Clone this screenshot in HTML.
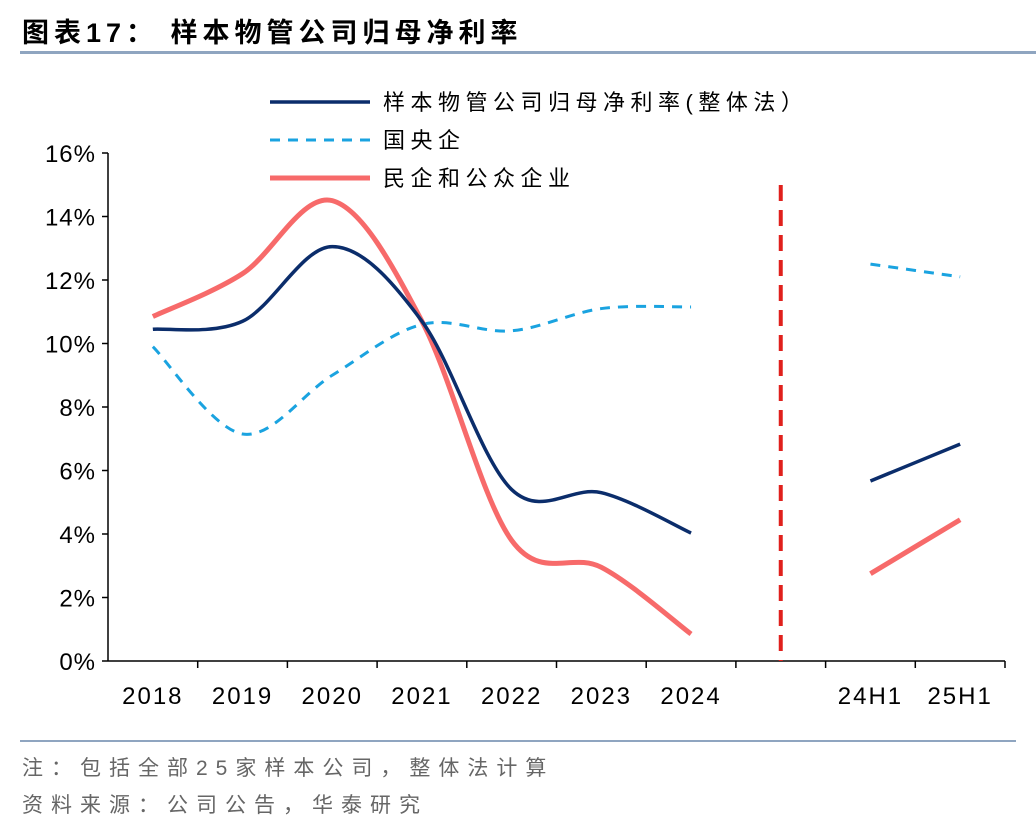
<!DOCTYPE html>
<html><head><meta charset="utf-8"><style>
body{margin:0;background:#fff;width:1036px;height:828px;overflow:hidden;font-family:"Liberation Sans","Noto Sans CJK SC",sans-serif}
</style></head><body>
<svg width="1036" height="828" xmlns="http://www.w3.org/2000/svg" id="chart">
<text x="22" y="42" font-size="27" font-weight="bold" letter-spacing="5" font-family="Liberation Sans,Noto Sans CJK SC,sans-serif">图表17：  样本物管公司归母净利率</text>
<rect x="20" y="51" width="1016" height="3" fill="#8fa5c0"/>
<rect x="20" y="740" width="996" height="2" fill="#8fa5c0"/>
<text x="22" y="775" font-size="21" fill="#666" letter-spacing="8">注：包括全部25家样本公司，整体法计算</text>
<text x="22" y="812" font-size="21" fill="#666" letter-spacing="8">资料来源：公司公告，华泰研究</text>
<g id="axes"></g><g id="series"></g>
<g>
<line x1="270" y1="102" x2="370" y2="102" stroke="#0b2d6b" stroke-width="3.5"/>
<text x="383" y="110" font-size="22" letter-spacing="5.5">样本物管公司归母净利率(整体法）</text>
<line x1="270" y1="140" x2="370" y2="140" stroke="#1aa3e0" stroke-width="3" stroke-dasharray="10,8"/>
<text x="383" y="148" font-size="22" letter-spacing="5.5">国央企</text>
<line x1="270" y1="178" x2="370" y2="178" stroke="#f76a6a" stroke-width="5"/>
<text x="383" y="186" font-size="22" letter-spacing="5.5">民企和公众企业</text>
</g>
</svg>
<script>
const categories=["2018","2019","2020","2021","2022","2023","2024","","24H1","25H1"];
const yTicks=[0,2,4,6,8,10,12,14,16];
const totalVals=[10.45,10.7,13.05,10.7,5.4,5.3,4.03];
const totalH=[5.67,6.83];
const soeVals=[9.9,7.15,9.0,10.6,10.4,11.1,11.15];
const soeH=[12.5,12.1];
const privVals=[10.85,12.2,14.5,10.7,3.8,2.95,0.85];
const privH=[2.75,4.45];
const NS="http://www.w3.org/2000/svg";
const L=108,R=1005,T=153,B=661;
const bw=(R-L)/categories.length;
const xs=i=>L+bw*(i+0.5);
const ys=v=>B-(v/16)*(B-T);
function mk(t,a,p){const e=document.createElementNS(NS,t);for(const k in a)e.setAttribute(k,a[k]);p.appendChild(e);return e;}
const ax=document.getElementById('axes'),se=document.getElementById('series');
const yl=mk('line',{x1:L,y1:T,x2:L,y2:B,stroke:'#000','stroke-width':1.5},ax);


yTicks.forEach(v=>{
 mk('line',{x1:L-6,y1:ys(v),x2:L,y2:ys(v),stroke:'#000','stroke-width':1.5},ax);
 const t=mk('text',{x:L-12,y:ys(v)+9,'font-size':24,'letter-spacing':1,'text-anchor':'end'},ax);t.textContent=v+'%';
 
 
});
const xl=mk('line',{x1:L,y1:B,x2:R,y2:B,stroke:'#000','stroke-width':1.5},ax);


categories.forEach((c,i)=>{
 mk('line',{x1:L+bw*(i+1),y1:B,x2:L+bw*(i+1),y2:B+7,stroke:'#000','stroke-width':1.5},ax);
 const t=mk('text',{x:xs(i),y:B+43,'font-size':24,'letter-spacing':2,'text-anchor':'middle'},ax);t.textContent=c;
 
 
});
const dv=mk('line',{x1:xs(7),y1:185,x2:xs(7),y2:B,stroke:'#e0201c','stroke-width':4,'stroke-dasharray':'16,9'},se);


function smooth(p){let d=`M${p[0][0]},${p[0][1]}`;for(let i=0;i<p.length-1;i++){const p0=p[i-1]||p[i],p1=p[i],p2=p[i+1],p3=p[i+2]||p2;const k=6;d+=` C${p1[0]+(p2[0]-p0[0])/k},${p1[1]+(p2[1]-p0[1])/k} ${p2[0]-(p3[0]-p1[0])/k},${p2[1]-(p3[1]-p1[1])/k} ${p2[0]},${p2[1]}`;}return d;}
function draw(vals,h,color,w,dash,name){
 const a=mk('path',{d:smooth(vals.map((v,i)=>[xs(i),ys(v)])),fill:'none',stroke:color,'stroke-width':w,'stroke-dasharray':dash},se);
 
 
 const b=mk('path',{d:smooth(h.map((v,i)=>[xs(8+i),ys(v)])),fill:'none',stroke:color,'stroke-width':w,'stroke-dasharray':dash},se);
 
 
}
draw(soeVals,soeH,'#1aa3e0',3,'10,8','soe');
draw(privVals,privH,'#f76a6a',5,'none','private');
draw(totalVals,totalH,'#0b2d6b',3.5,'none','total');
</script>
</body></html>
